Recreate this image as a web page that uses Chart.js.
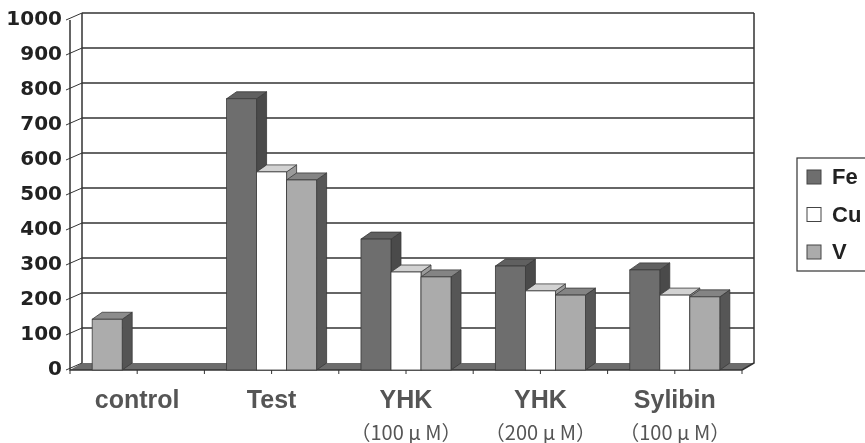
<!DOCTYPE html>
<html>
<head>
<meta charset="utf-8">
<script src="https://cdn.jsdelivr.net/npm/chart.js@4.4.1/dist/chart.umd.min.js"></script>
<style>
  html, body { margin: 0; padding: 0; background: #fff; }
  #wrap { width: 865px; height: 443px; position: relative; }
</style>
</head>
<body>
<div id="wrap"><canvas id="c"></canvas></div>
<script>
// Categories (first label line) and concentration (second label line)
const categories = ['control', 'Test', 'YHK', 'YHK', 'Sylibin'];
const concentrations = ['', '', '（100 μ M）', '（200 μ M）', '（100 μ M）'];

// Series
const seriesNames = ['Fe', 'Cu', 'V'];
const feValues = [145, 775, 374, 297, 286];
const cuValues = [null, 566, 280, 226, 214];
const vValues  = [null, 543, 266, 214, 209];

// Value axis
const yMin = 0;
const yMax = 1000;
const yStep = 100;

// Depth of the 3D box (walls / floor) and of the columns
const WALL_DX = 12, WALL_DY = 7;
const BAR_DX = 10, BAR_DY = 7;

const LINE = '#333333';

function colorAt(v, i) { return Array.isArray(v) ? v[i] : v; }

const box3d = {
  id: 'box3d',
  beforeDatasetsDraw(chart) {
    const { ctx, chartArea: a, scales: { x, y } } = chart;
    ctx.save();

    // floor
    ctx.fillStyle = '#6c6c6c';
    ctx.beginPath();
    ctx.moveTo(a.left, a.bottom);
    ctx.lineTo(a.left + WALL_DX, a.bottom - WALL_DY);
    ctx.lineTo(a.right + WALL_DX, a.bottom - WALL_DY);
    ctx.lineTo(a.right, a.bottom);
    ctx.closePath();
    ctx.fill();

    // back-wall gridlines and the slanted tick connectors on the side wall
    ctx.strokeStyle = LINE;
    for (let v = yMin; v <= yMax; v += yStep) {
      const yf = y.getPixelForValue(v);
      const yb = yf - WALL_DY;
      if (v > yMin) {
        ctx.lineWidth = 1.5;
        ctx.beginPath();
        ctx.moveTo(a.left + WALL_DX, yb);
        ctx.lineTo(a.right + WALL_DX, yb);
        ctx.stroke();
      }
      ctx.lineWidth = 1;
      ctx.beginPath();
      ctx.moveTo(a.left - 4, yf);
      ctx.lineTo(a.left + WALL_DX, yb);
      ctx.stroke();
    }

    // back-wall edges
    const yTopB = y.getPixelForValue(yMax) - WALL_DY;
    const yBotB = y.getPixelForValue(yMin) - WALL_DY;
    ctx.lineWidth = 1.5;
    ctx.beginPath();
    ctx.moveTo(a.left + WALL_DX, yTopB);
    ctx.lineTo(a.left + WALL_DX, yBotB);
    ctx.moveTo(a.right + WALL_DX, yTopB);
    ctx.lineTo(a.right + WALL_DX, yBotB);
    ctx.lineTo(a.right, a.bottom);
    ctx.stroke();

    // front value axis and category axis
    ctx.beginPath();
    ctx.moveTo(a.left, y.getPixelForValue(yMax));
    ctx.lineTo(a.left, a.bottom);
    ctx.lineTo(a.right, a.bottom);
    ctx.stroke();

    // category tick marks (boundaries and centres)
    const half = (x.getPixelForValue(1) - x.getPixelForValue(0)) / 2;
    ctx.lineWidth = 1;
    ctx.beginPath();
    categories.forEach((_, i) => {
      const cx = x.getPixelForValue(i);
      [cx - half, cx].forEach(px => { ctx.moveTo(px, a.bottom); ctx.lineTo(px, a.bottom + 4); });
      if (i === categories.length - 1) { ctx.moveTo(cx + half, a.bottom); ctx.lineTo(cx + half, a.bottom + 4); }
    });
    ctx.stroke();

    // columns, painted left to right so nearer faces cover farther ones
    const bars = [];
    chart.data.datasets.forEach((ds, di) => {
      const meta = chart.getDatasetMeta(di);
      meta.data.forEach((el, i) => {
        if (ds.data[i] == null) return;
        bars.push({ el, ds, i });
      });
    });
    bars.sort((p, q) => p.el.x - q.el.x);

    ctx.lineWidth = 0.8;
    ctx.strokeStyle = '#3a3a3a';
    bars.forEach(({ el, ds, i }) => {
      const p = el.getProps(['x', 'y', 'base', 'width'], true);
      const L = p.x - p.width / 2, R = p.x + p.width / 2;
      const T = p.y, B = p.base;

      // side face
      ctx.fillStyle = colorAt(ds.sideColor, i);
      ctx.beginPath();
      ctx.moveTo(R, T);
      ctx.lineTo(R + BAR_DX, T - BAR_DY);
      ctx.lineTo(R + BAR_DX, B - BAR_DY);
      ctx.lineTo(R, B);
      ctx.closePath();
      ctx.fill(); ctx.stroke();

      // top face
      ctx.fillStyle = colorAt(ds.topColor, i);
      ctx.beginPath();
      ctx.moveTo(L, T);
      ctx.lineTo(L + BAR_DX, T - BAR_DY);
      ctx.lineTo(R + BAR_DX, T - BAR_DY);
      ctx.lineTo(R, T);
      ctx.closePath();
      ctx.fill(); ctx.stroke();

      // front face
      ctx.fillStyle = colorAt(ds.backgroundColor, i);
      ctx.fillRect(L, T, R - L, B - T);
      ctx.strokeRect(L, T, R - L, B - T);
    });

    ctx.restore();
    return false;
  },
  afterDraw(chart) {
    const { ctx, scales: { x } } = chart;
    ctx.save();

    // second line of the category labels
    ctx.fillStyle = '#555555';
    ctx.font = '20px "Noto Sans CJK JP"';
    ctx.textAlign = 'center';
    ctx.textBaseline = 'middle';
    concentrations.forEach((t, i) => {
      if (t) ctx.fillText(t, x.getPixelForValue(i), 432);
    });

    // legend
    const lx = 797, ly = 158, lw = 80, lh = 113;
    ctx.fillStyle = '#ffffff';
    ctx.fillRect(lx, ly, lw, lh);
    ctx.strokeStyle = LINE;
    ctx.lineWidth = 1.2;
    ctx.strokeRect(lx, ly, lw, lh);
    ctx.font = 'bold 22px "Liberation Sans"';
    ctx.textAlign = 'left';
    ctx.textBaseline = 'middle';
    chart.data.datasets.forEach((ds, di) => {
      const cy = 177 + di * 37.5;
      ctx.fillStyle = ds.legendColor;
      ctx.fillRect(lx + 10, cy - 7, 14, 14);
      ctx.lineWidth = 1;
      ctx.strokeStyle = '#444';
      ctx.strokeRect(lx + 10, cy - 7, 14, 14);
      ctx.fillStyle = '#222222';
      ctx.fillText(ds.label, lx + 35, cy + 1);
    });
    ctx.restore();
  }
};

new Chart(document.getElementById('c'), {
  type: 'bar',
  data: {
    labels: categories,
    datasets: [
      {
        label: seriesNames[0],
        data: feValues,
        backgroundColor: ['#acacac', '#6e6e6e', '#6e6e6e', '#6e6e6e', '#6e6e6e'],
        topColor: ['#8c8c8c', '#606060', '#606060', '#606060', '#606060'],
        sideColor: ['#545454', '#4a4a4a', '#4a4a4a', '#4a4a4a', '#4a4a4a'],
        legendColor: '#6e6e6e'
      },
      {
        label: seriesNames[1],
        data: cuValues,
        backgroundColor: '#ffffff',
        topColor: '#d2d2d2',
        sideColor: '#9a9a9a',
        legendColor: '#ffffff'
      },
      {
        label: seriesNames[2],
        data: vValues,
        backgroundColor: '#ababab',
        topColor: '#848484',
        sideColor: '#565656',
        legendColor: '#ababab'
      }
    ]
  },
  options: {
    responsive: true,
    maintainAspectRatio: false,
    animation: false,
    layout: { padding: { top: 20, right: 123, bottom: 0, left: 0 } },
    datasets: { bar: { categoryPercentage: 0.67, barPercentage: 1.0 } },
    plugins: { legend: { display: false }, tooltip: { enabled: false } },
    scales: {
      x: {
        grid: { display: false, drawTicks: false },
        border: { display: false },
        ticks: {
          color: '#555555',
          font: { family: '"Liberation Sans"', weight: 'bold', size: 25 },
          padding: 16,
          maxRotation: 0,
          autoSkip: false
        },
        afterFit(s) { s.height = 73; }
      },
      y: {
        min: yMin,
        max: yMax,
        grid: { display: false, drawTicks: false },
        border: { display: false },
        ticks: {
          stepSize: yStep,
          color: '#222222',
          font: { family: '"DejaVu Sans"', weight: 'bold', size: 20 },
          padding: 8,
          callback: v => String(v)
        },
        afterFit(s) { s.width = 70; }
      }
    }
  },
  plugins: [box3d]
});
</script>
</body>
</html>
